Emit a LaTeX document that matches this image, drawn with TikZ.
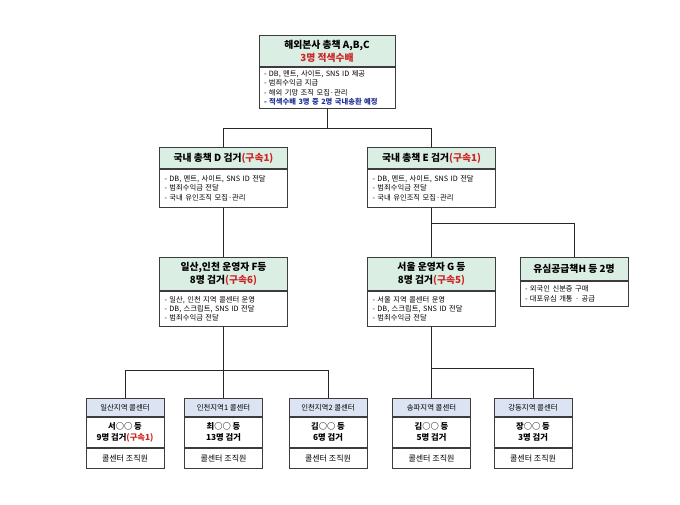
\documentclass[tikz,border=0pt]{standalone}
\usepackage{fontspec}
\setmainfont{Noto Sans CJK KR}
\usetikzlibrary{positioning}
\definecolor{headgreen}{RGB}{218,238,227}
\definecolor{headblue}{RGB}{220,227,242}
\definecolor{boxline}{RGB}{60,60,60}
\definecolor{arrestred}{RGB}{205,35,35}
\definecolor{planblue}{RGB}{35,50,150}

\begin{document}
\begin{tikzpicture}[
      x=1pt, y=-1pt,
      hdr/.style={
        draw=boxline,
        fill=headgreen,
        line width=0.8pt,
        anchor=north,
        align=center,
        inner sep=1pt,
        font=\bfseries\fontsize{9.8}{13}\selectfont
      },
      detail/.style={
        draw=boxline,
        fill=white,
        line width=0.8pt,
        align=left,
        inner xsep=5pt,
        inner ysep=2pt,
        font=\fontsize{7.3}{9.4}\selectfont
      },
      callhdr/.style={
        draw=boxline,
        fill=headblue,
        line width=0.8pt,
        anchor=north,
        minimum width=78,
        minimum height=18,
        inner sep=1pt,
        font=\fontsize{7.4}{8}\selectfont
      },
      callmid/.style={
        draw=boxline,
        fill=white,
        line width=0.8pt,
        minimum width=78,
        minimum height=30,
        align=center,
        inner sep=1pt,
        font=\bfseries\fontsize{8.3}{11}\selectfont
      },
      callbot/.style={
        draw=boxline,
        fill=white,
        line width=0.8pt,
        minimum width=78,
        minimum height=20,
        inner sep=1pt,
        font=\fontsize{8}{9}\selectfont
      },
      link/.style={draw=black!85, line width=0.8pt}
    ]
    \fill[white] (0,0) rectangle (680,504);
    \useasboundingbox (0,0) rectangle (680,504);

    % Place nodes
    \node[hdr, minimum width=136, minimum height=31] (hqH) at (327,35)
      {해외본사 총책 A,B,C\\\textcolor{arrestred}{3명 적색수배}};
    \node[detail, text width=126, minimum height=41, below=0pt of hqH] (hqD)
      {- DB, 멘트, 사이트, SNS ID 제공\\- 범죄수익금 지급\\- 해외 기망 조직 모집·관리\\
       \textcolor{planblue}{\bfseries - 적색수배 3명 중 2명 국내송환 예정}};

    \node[hdr, minimum width=128, minimum height=21] (dH) at (223.5,147)
      {국내 총책 D 검거\textcolor{arrestred}{(구속1)}};
    \node[detail, text width=118, minimum height=38, below=0pt of dH] (dD)
      {- DB, 멘트, 사이트, SNS ID 전달\\- 범죄수익금 전달\\- 국내 유인조직 모집·관리};

    \node[hdr, minimum width=128, minimum height=21] (eH) at (431.5,147)
      {국내 총책 E 검거\textcolor{arrestred}{(구속1)}};
    \node[detail, text width=118, minimum height=38, below=0pt of eH] (eD)
      {- DB, 멘트, 사이트, SNS ID 전달\\- 범죄수익금 전달\\- 국내 유인조직 모집·관리};

    \node[hdr, minimum width=128, minimum height=33] (fH) at (223.5,257)
      {일산,인천 운영자 F등\\8명 검거\textcolor{arrestred}{(구속6)}};
    \node[detail, text width=118, minimum height=35, below=0pt of fH] (fD)
      {- 일산, 인천 지역 콜센터 운영\\- DB, 스크립트, SNS ID 전달\\- 범죄수익금 전달};

    \node[hdr, minimum width=128, minimum height=33] (gH) at (431.5,257)
      {서울 운영자 G 등\\8명 검거\textcolor{arrestred}{(구속5)}};
    \node[detail, text width=118, minimum height=35, below=0pt of gH] (gD)
      {- 서울 지역 콜센터 운영\\- DB, 스크립트, SNS ID 전달\\- 범죄수익금 전달};

    \node[hdr, minimum width=108, minimum height=23] (hH) at (574,257)
      {유심공급책H 등 2명};
    \node[detail, text width=98, minimum height=25, below=0pt of hH] (hD)
      {- 외국인 신분증 구매\\- 대포유심 개통 · 공급};

    % Call centres
    \node[callhdr] (c1H) at (125,398) {일산지역 콜센터};
    \node[callmid, below=0pt of c1H] (c1M) {서○○ 등\\9명 검거\textcolor{arrestred}{(구속1)}};
    \node[callbot, below=0pt of c1M] (c1B) {콜센터 조직원};

    \node[callhdr] (c2H) at (223.5,398) {인천지역1 콜센터};
    \node[callmid, below=0pt of c2H] (c2M) {최○○ 등\\13명 검거};
    \node[callbot, below=0pt of c2M] (c2B) {콜센터 조직원};

    \node[callhdr] (c3H) at (328,398) {인천지역2 콜센터};
    \node[callmid, below=0pt of c3H] (c3M) {김○○ 등\\6명 검거};
    \node[callbot, below=0pt of c3M] (c3B) {콜센터 조직원};

    \node[callhdr] (c4H) at (431.5,398) {송파지역 콜센터};
    \node[callmid, below=0pt of c4H] (c4M) {김○○ 등\\5명 검거};
    \node[callbot, below=0pt of c4M] (c4B) {콜센터 조직원};

    \node[callhdr] (c5H) at (533,398) {강동지역 콜센터};
    \node[callmid, below=0pt of c5H] (c5M) {장○○ 등\\3명 검거};
    \node[callbot, below=0pt of c5M] (c5B) {콜센터 조직원};

    % Draw connectors
    \path (hqD.south) ++(0,20) coordinate (hqSplit);
    \draw[link] (hqD.south) -- (hqSplit);
    \draw[link] (dH.north) |- (hqSplit) -| (eH.north);

    \draw[link] (dD.south) -- (fH.north);
    \draw[link] (eD.south) -- (gH.north);
    \path (eD.south) ++(0,16) coordinate (eSplit);
    \draw[link] (eSplit) -| (hH.north);

    \path (fD.south) ++(0,44) coordinate (fSplit);
    \draw[link] (fD.south) -- (c2H.north);
    \draw[link] (c1H.north) |- (fSplit) -| (c3H.north);

    \path (gD.south) ++(0,42) coordinate (gSplit);
    \draw[link] (gD.south) -- (c4H.north);
    \draw[link] (gSplit) -| (c5H.north);
  \end{tikzpicture}
\end{document}
